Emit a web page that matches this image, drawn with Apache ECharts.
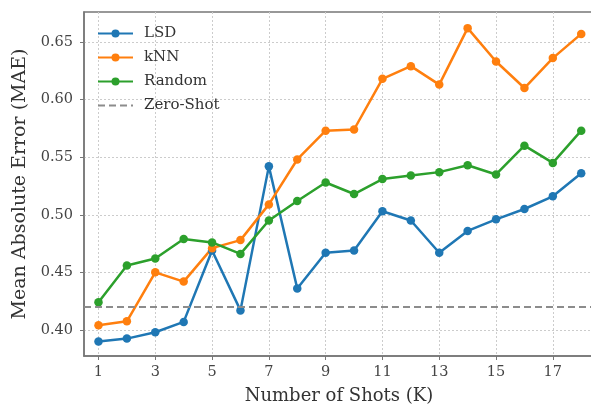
<!DOCTYPE html>
<html><head><meta charset="utf-8">
<script src="https://cdn.jsdelivr.net/npm/echarts@6/dist/echarts.min.js"></script>
<style>html,body{margin:0;padding:0;background:#fff}#c{width:591px;height:405px}</style>
</head><body><div id="c"></div>
<script>
const shots = [1,2,3,4,5,6,7,8,9,10,11,12,13,14,15,16,17,18];
const lsd = [0.390,0.3925,0.398,0.407,0.469,0.417,0.542,0.436,0.467,0.469,0.503,0.495,0.467,0.486,0.496,0.505,0.516,0.536];
const knn = [0.404,0.4075,0.450,0.442,0.471,0.478,0.509,0.548,0.573,0.574,0.618,0.629,0.613,0.662,0.633,0.610,0.636,0.657];
const rnd = [0.424,0.456,0.462,0.479,0.476,0.466,0.495,0.512,0.528,0.518,0.531,0.534,0.537,0.543,0.535,0.560,0.545,0.573];
const zeroShot = 0.42;
const xTicks = [1,3,5,7,9,11,13,15,17];
const yTicks = [0.40,0.45,0.50,0.55,0.60,0.65];

const font = '"DejaVu Serif", serif';
const pairs = a => shots.map((x,i)=>[x,a[i]]);
const lineSeries = (name, data, color) => ({
  name, type:'line', data: pairs(data), symbol:'circle', symbolSize:8.5,
  itemStyle:{color}, lineStyle:{color, width:2.5}, z:3
});
const chart = echarts.init(document.getElementById('c'));
chart.setOption({
  animation:false,
  textStyle:{fontFamily:font},
  grid:{left:84, top:12, right:-3, bottom:49, outerBoundsMode:'none', containLabel:false,
        show:true, borderColor:'#777', borderWidth:1.5, backgroundColor:'transparent'},
  legend:{
    orient:'vertical', left:92, top:21, itemWidth:35, itemHeight:10, itemGap:9,
    textStyle:{fontFamily:font, fontSize:15, color:'#333', padding:[0,0,0,6]},
    data:['LSD','kNN','Random','Zero-Shot']
  },
  xAxis:{
    type:'value', min:0.49, max:18.45,
    name:'Number of Shots (K)', nameLocation:'middle', nameGap:31,
    nameTextStyle:{fontFamily:font, fontSize:18, color:'#333'},
    axisLine:{show:true, lineStyle:{color:'#777', width:1.5}},
    axisTick:{show:true, customValues:xTicks, length:4, lineStyle:{color:'#777'}},
    axisLabel:{customValues:xTicks, fontFamily:font, fontSize:14.5, color:'#444', margin:9},
    splitLine:{show:true, customValues:xTicks, lineStyle:{color:'#ccc', type:[2,2], width:1}}
  },
  yAxis:{
    type:'value', min:0.3774, max:0.676,
    name:'Mean Absolute Error (MAE)', nameLocation:'middle', nameGap:49,
    nameTextStyle:{fontFamily:font, fontSize:19, color:'#333'},
    axisLine:{show:true, lineStyle:{color:'#777', width:1.5}},
    axisTick:{show:true, customValues:yTicks, length:4, lineStyle:{color:'#777'}},
    axisLabel:{customValues:yTicks, fontFamily:font, fontSize:14.5, color:'#444', margin:11, formatter:v=>v.toFixed(2)},
    splitLine:{show:true, customValues:yTicks, lineStyle:{color:'#ccc', type:[2,2], width:1}}
  },
  series:[
    lineSeries('LSD', lsd, '#1f77b4'),
    lineSeries('kNN', knn, '#ff7f0e'),
    lineSeries('Random', rnd, '#2ca02c'),
    {name:'Zero-Shot', type:'line', data:[], symbol:'circle', symbolSize:0,
     itemStyle:{color:'rgba(0,0,0,0)'}, lineStyle:{color:'#8c8c8c', width:2, type:[7,4]},
     markLine:{silent:true, symbol:'none', label:{show:false},
       lineStyle:{color:'#8c8c8c', width:2, type:[7,4]}, data:[{yAxis:zeroShot}]}}
  ]
});
</script></body></html>
